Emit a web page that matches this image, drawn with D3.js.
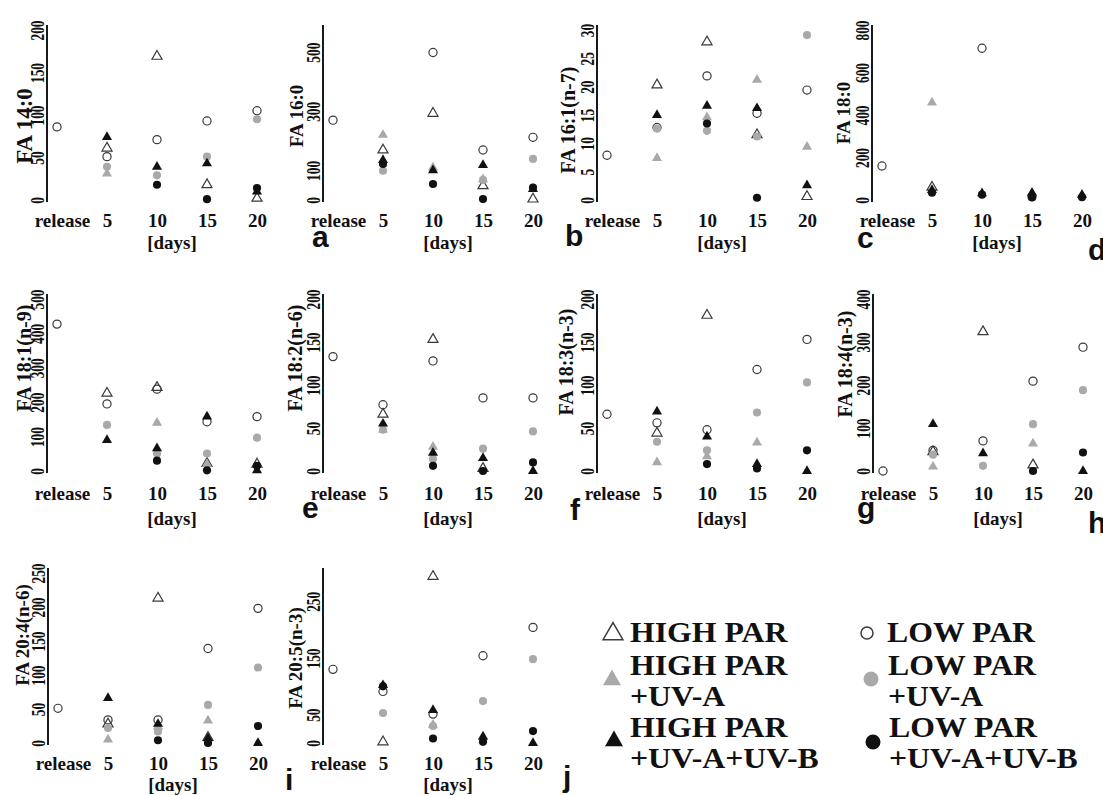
<!DOCTYPE html>
<html><head><meta charset="utf-8">
<script src="https://cdn.jsdelivr.net/npm/d3@7"></script>
<style>
body{margin:0;background:#fff;}
svg{display:block;}
</style></head><body>
<svg id="chart" width="1103" height="795"></svg>
<script>
// ---------------- data ----------------
const categories = ["release", "5", "10", "15", "20"];
const panelTitles = ["FA 14:0", "FA 16:0", "FA 16:1(n-7)", "FA 18:0", "FA 18:1(n-9)",
  "FA 18:2(n-6)", "FA 18:3(n-3)", "FA 18:4(n-3)", "FA 20:4(n-6)", "FA 20:5(n-3)"];
const panelLetters = ["a", "b", "c", "d", "e", "f", "g", "h", "i", "j"];
const yMax = [200, 575, 30, 800, 500, 200, 200, 400, 250, 300];
const yTicks = [
  [0, 50, 100, 150, 200],
  [0, 100, 300, 500],
  [0, 5, 10, 15, 20, 25, 30],
  [0, 200, 400, 600, 800],
  [0, 100, 200, 300, 400, 500],
  [0, 50, 100, 150, 200],
  [0, 50, 100, 150, 200],
  [0, 100, 200, 300, 400],
  [0, 50, 100, 150, 200, 250],
  [0, 50, 150, 250]
];
const xAxisTitle = "[days]";
// value at release (initial), one per panel
const releaseValues = [86, 270, 7.9, 160, 427, 133, 66, 0, 51, 130];
// values for days 5, 10, 15, 20 ; one row per panel (a..j)
const highPar = [
  [61, 169, 18, 2], [169, 293, 48, 3], [20.3, 27.9, 11.5, 0.6], [60, null, null, null],
  [226, 243, 22, 20], [66, 153, 3, null], [44, 181, null, null], [45, 324, 14, null],
  [28, 213, 8, null], [2, 294, null, null]
];
const highParUVA = [
  [31, null, null, null], [220, 110, 70, null], [7.4, 14.6, 21.2, 9.4], [458, null, null, null],
  [null, 140, 20, null], [48, 28, null, null], [10, 17, 33, null], [10, null, 64, null],
  [5, 24, 33, null], [null, 32, 12, null]
];
const highParUVAB = [
  [74, 39, 43, 10], [135, 100, 118, 37], [15, 16.6, 16.2, 2.6], [47, 31, 34, 24],
  [90, 66, 158, 2], [55, 21, 15, 0], [69, 40, 8, 0], [109, 41, null, 0],
  [66, 28, 7, 0], [102, 58, 11, 0]
];
const lowPar = [
  [51, 71, 93, 105], [null, 499, 169, 212], [12.8, 21.9, 15.3, 19.4], [null, 714, 16, null],
  [195, 238, 143, 158], [77, 128, 85, 85], [56, 48, 118, 153], [48, 70, 209, 288],
  [34, 34, 139, 198], [91, 51, 154, 204]
];
const lowParUVA = [
  [39, 29, 51, 95], [99, null, 68, 139], [12.6, 12.2, 11.2, 29.1], [null, null, null, null],
  [134, 51, 51, 97], [48, 14, 26, 46], [34, 24, 68, 103], [38, 12, 109, 188],
  [22, 17, 56, 111], [53, 30, 74, 148]
];
const lowParUVAB = [
  [null, 18, 1, 14], [122, 54, 3, 42], [null, 13.5, 0.4, null], [34, 25, 12, 13],
  [null, 30, 2, 15], [null, 6, 0, 10], [null, 8, 3, 24], [null, null, 0, 43],
  [null, 4, 0, 25], [100, 8, 2, 21]
];
const legendLabels = [
  ["HIGH PAR"], ["HIGH PAR", "+UV-A"], ["HIGH PAR", "+UV-A+UV-B"],
  ["LOW PAR"], ["LOW PAR", "+UV-A"], ["LOW PAR", "+UV-A+UV-B"]
];

// ---------------- styles / layout ----------------
const SERIF = "'Liberation Serif', 'Times New Roman', serif";
const SANS = "'Liberation Sans', Arial, sans-serif";
const GRAY = "#a9a9a9", BLACK = "#111", OPEN = "#3a3a3a";
const seriesStyle = [
  {data: lowPar, shape: "circle", fill: "none", stroke: OPEN},
  {data: highPar, shape: "triangle", fill: "none", stroke: OPEN},
  {data: lowParUVA, shape: "circle", fill: GRAY, stroke: "none"},
  {data: highParUVA, shape: "triangle", fill: GRAY, stroke: "none"},
  {data: lowParUVAB, shape: "circle", fill: BLACK, stroke: "none"},
  {data: highParUVAB, shape: "triangle", fill: BLACK, stroke: "none"}
];
const axisX = [47, 323, 597, 872, 47, 323, 597, 873, 48, 323];
const rowOf = [0, 0, 0, 0, 1, 1, 1, 1, 2, 2];
const rowY0 = [200, 471, 743], rowYTop = [30, 299, 573];
const rowLabelY = [227, 500, 770], rowDaysY = [249, 525, 791];
const titleCy = [126, 116, 120, 113, 358, 358, 362, 364, 635, 658];
const titleDx = [-15, -20, -22, -22, -16, -21, -24, -21, -19, -21];
const titleSize = [23, 19, 20, 19, 20, 20, 20, 20, 19, 19];
const letterPos = [[312, 247], [565, 246], [857, 248], [1088, 260], [302, 518], [570, 520],
  [857, 518], [1088, 533], [285, 790], [563, 787]];

const svg = d3.select("#chart")
  .style("font-family", SERIF).style("font-weight", "bold");

function symbolPath(shape, big) {
  if (shape === "triangle") return d3.symbol().type(d3.symbolTriangle).size(big || 44)();
  return d3.symbol().type(d3.symbolCircle).size(big || 52)();
}

panelTitles.forEach((title, p) => {
  const r = rowOf[p], ax = axisX[p];
  const y = d3.scaleLinear().domain([0, yMax[p]]).range([rowY0[r], rowYTop[r]]);
  const x = d3.scalePoint().domain(categories).range([ax + 10, ax + 210]);
  const g = svg.append("g");

  // y axis
  const ya = g.append("g").attr("transform", `translate(${ax},0)`)
    .call(d3.axisLeft(y).tickValues(yTicks[p]).tickSize(0).tickFormat(d3.format("d")));
  ya.attr("font-family", SERIF).attr("font-size", null);
  ya.select(".domain").attr("d", `M0,${rowY0[r] + 2}V${rowYTop[r] - 5}`)
    .attr("stroke", "#1a1a1a").attr("stroke-width", 2);
  ya.selectAll(".tick line").remove();
  ya.selectAll(".tick text")
    .attr("x", null).attr("dy", null)
    .attr("text-anchor", "middle").attr("font-size", 18).attr("fill", "#111")
    .style("font-family", SERIF).style("font-weight", "bold")
    .attr("transform", "translate(-3,0) rotate(-90) scale(0.74,1)");

  // y title
  g.append("text").text(title)
    .attr("transform", `translate(${ax + titleDx[p]},${titleCy[p]}) rotate(-90)`)
    .attr("text-anchor", "middle").attr("font-size", titleSize[p]).attr("fill", "#111")
    .style("font-family", SERIF).style("font-weight", "bold");

  // x axis labels
  const xa = g.append("g").attr("transform", `translate(0,${rowLabelY[r]})`)
    .call(d3.axisBottom(x).tickSize(0));
  xa.attr("font-family", SERIF).attr("font-size", null);
  xa.select(".domain").remove();
  xa.selectAll(".tick text").attr("y", 0).attr("dy", null)
    .attr("font-size", 19).attr("fill", "#111")
    .style("font-family", SERIF).style("font-weight", "bold")
    .attr("dx", d => d === "release" ? 5 : 0);

  g.append("text").text(xAxisTitle)
    .attr("x", ax + 125).attr("y", rowDaysY[r])
    .attr("text-anchor", "middle").attr("font-size", 19).attr("fill", "#111")
    .style("font-family", SERIF).style("font-weight", "bold");

  // release point
  g.append("path").attr("d", symbolPath("circle"))
    .attr("transform", `translate(${x(categories[0])},${y(releaseValues[p])})`)
    .attr("fill", "none").attr("stroke", OPEN).attr("stroke-width", 1.2);

  // series points
  seriesStyle.forEach(s => {
    const pts = s.data[p].map((v, i) => ({c: categories[i + 1], v})).filter(d => d.v !== null);
    g.selectAll(null).data(pts).enter().append("path")
      .attr("d", symbolPath(s.shape))
      .attr("transform", d => `translate(${x(d.c)},${y(d.v)})`)
      .attr("fill", s.fill).attr("stroke", s.stroke).attr("stroke-width", 1.2);
  });

  // panel letter
  svg.append("text").text(panelLetters[p])
    .attr("x", letterPos[p][0]).attr("y", letterPos[p][1])
    .attr("font-size", 30).attr("fill", "#111")
    .style("font-family", SANS).style("font-weight", "bold");
});

// ---------------- legend ----------------
const legendItems = [
  {shape: "triangle", fill: "none", stroke: OPEN, size: 170, mx: 613, my: 634, tx: 630, ty: [642]},
  {shape: "triangle", fill: GRAY, stroke: "none", size: 140, mx: 612, my: 680, tx: 630, ty: [675, 706]},
  {shape: "triangle", fill: BLACK, stroke: "none", size: 140, mx: 614, my: 741, tx: 630, ty: [737, 768]},
  {shape: "circle", fill: "none", stroke: OPEN, size: 113, mx: 867, my: 633, tx: 887, ty: [642]},
  {shape: "circle", fill: GRAY, stroke: "none", size: 177, mx: 871, my: 679, tx: 888, ty: [675, 706]},
  {shape: "circle", fill: BLACK, stroke: "none", size: 177, mx: 873, my: 742, tx: 889, ty: [737, 768]}
];
legendItems.forEach((it, i) => {
  svg.append("path").attr("d", symbolPath(it.shape, it.size))
    .attr("transform", `translate(${it.mx},${it.my})`)
    .attr("fill", it.fill).attr("stroke", it.stroke).attr("stroke-width", 1.5);
  legendLabels[i].forEach((line, k) => {
    svg.append("text").text(line)
      .attr("transform", `translate(${it.tx},${it.ty[k]}) scale(1.06,1)`)
      .attr("font-size", 30).attr("fill", "#111")
      .style("font-family", SERIF).style("font-weight", "bold");
  });
});
</script>
</body></html>
